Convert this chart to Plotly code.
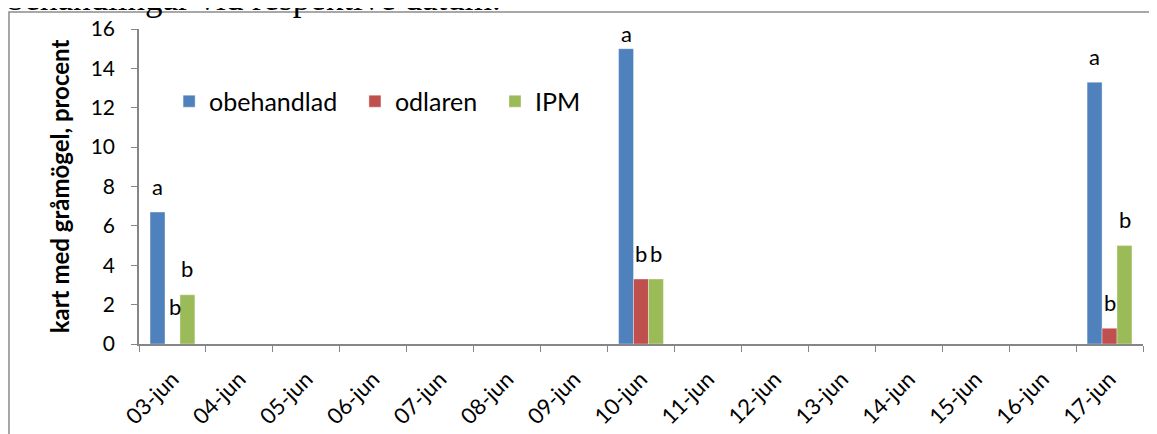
import plotly.graph_objects as go

dates = ["03-jun", "04-jun", "05-jun", "06-jun", "07-jun", "08-jun", "09-jun", "10-jun",
         "11-jun", "12-jun", "13-jun", "14-jun", "15-jun", "16-jun", "17-jun"]
obehandlad = {"03-jun": 6.7, "10-jun": 15.0, "17-jun": 13.3}
odlaren = {"03-jun": 0.0, "10-jun": 3.3, "17-jun": 0.8}
ipm = {"03-jun": 2.5, "10-jun": 3.3, "17-jun": 5.0}
letters_obehandlad = {"03-jun": "a", "10-jun": "a", "17-jun": "a"}
letters_odlaren = {"03-jun": "b", "10-jun": "b", "17-jun": "b"}
letters_ipm = {"03-jun": "b", "10-jun": "b", "17-jun": "b"}

series = [
    ("obehandlad", obehandlad, letters_obehandlad, "#4F81BD"),
    ("odlaren", odlaren, letters_odlaren, "#C0504D"),
    ("IPM", ipm, letters_ipm, "#9BBB59"),
]

FONT = "Lato, Liberation Sans, sans-serif"
PAD = "\u00a0\u00a0"  # a bit more room between legend entries

fig = go.Figure()
annotations = []
for i, (name, vals, letters, color) in enumerate(series):
    fig.add_trace(go.Bar(
        x=dates, y=[vals.get(d) for d in dates], name=name + PAD,
        marker=dict(color=color, line=dict(color="rgba(255,255,255,0.6)", width=0.6)),
    ))
    for d, t in letters.items():
        # letter sits above its bar (a few tweaked like in the original)
        ys = 26
        xs = (i - 1) * 15
        if name == "odlaren" and d == "03-jun":
            ys = 38
            xs = 3
        if name == "obehandlad" and d == "10-jun":
            ys = 15
        annotations.append(dict(x=d, y=vals[d], text=t, showarrow=False, xref="x", yref="y",
                                yanchor="middle", xshift=xs, yshift=ys,
                                font=dict(family=FONT, size=22, color="#000")))

# text from the page above the chart, partly cut off
annotations.append(dict(text="behandlingar vid respektive datum.", xref="paper", yref="paper",
                        x=-0.133, y=1.027, xanchor="left", yanchor="bottom", showarrow=False,
                        font=dict(family="Liberation Serif, serif", size=35, color="#000")))

# page body adds 8px, so margins are 8px smaller on top/left
fig.update_layout(
    width=1157, height=434,
    margin=dict(l=131, r=22, t=21, b=98, autoexpand=False),
    paper_bgcolor="white", plot_bgcolor="white",
    barmode="group", bargap=0.33, bargroupgap=0,
    font=dict(family=FONT, size=22, color="#000"),
    legend=dict(orientation="h", x=0.03, y=0.77, xanchor="left", yanchor="middle",
                font=dict(size=25), bgcolor="rgba(0,0,0,0)"),
    annotations=annotations,
    shapes=[dict(type="rect", xref="paper", yref="paper", x0=-0.1295, y0=-0.5, x1=1.2, y1=1.054,
                 line=dict(color="#8c8c8c", width=1.5), layer="below")],
    showlegend=True,
)
fig.update_xaxes(type="category", tickson="boundaries", ticks="outside", ticklen=6,
                 tickcolor="#868686", showline=True, linecolor="#868686", linewidth=1.5,
                 tickangle=-45, showgrid=False, tickfont=dict(size=22), automargin=False,
                 ticklabelstandoff=12)
fig.update_yaxes(range=[0, 16], dtick=2, ticks="outside", ticklen=6, tickcolor="#868686",
                 showline=True, linecolor="#868686", linewidth=1.5, showgrid=False,
                 zeroline=False, tickfont=dict(size=21), automargin=False,
                 ticklabelstandoff=12,
                 title=dict(text="<b>kart med gråmögel, procent</b>", standoff=14,
                            font=dict(size=24)))

fig.write_html("out.html")
